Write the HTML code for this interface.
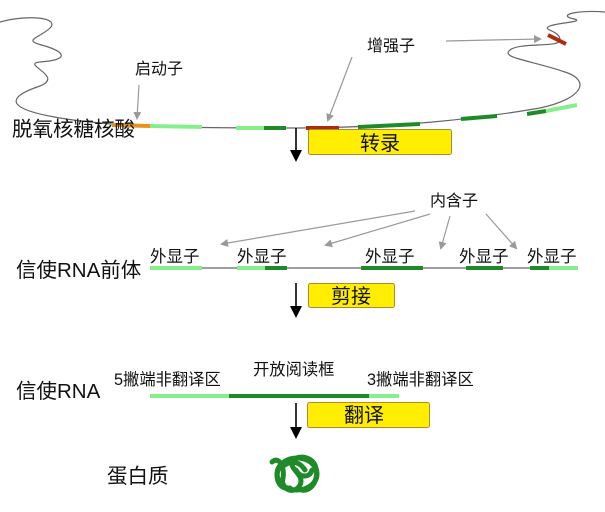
<!DOCTYPE html>
<html><head><meta charset="utf-8"><style>
body{margin:0;background:#fff;}
svg{display:block;}
text{font-family:"Liberation Sans","Noto Sans CJK SC",sans-serif;fill:#111;}
</style></head><body>
<svg width="605" height="512" viewBox="0 0 605 512" xmlns="http://www.w3.org/2000/svg">
<defs>
<marker id="ga" markerWidth="8" markerHeight="8" refX="6" refY="4" orient="auto" markerUnits="userSpaceOnUse"><path d="M0,0 L8,4 L0,8 z" fill="#999"/></marker>
<marker id="ba" markerWidth="12" markerHeight="12" refX="10" refY="6" orient="auto" markerUnits="userSpaceOnUse"><path d="M0,0 L12,6 L0,12 z" fill="#000"/></marker>
</defs>
<path d="M0,22 C30,14 60,18 50,28 C40,38 20,40 45,46 C65,52 70,60 40,62 C20,64 65,76 40,86 C10,96 0,108 60,118 C120,128 200,128 300,128 C400,127 470,120 540,108 C585,98 590,80 565,72 C530,60 500,58 510,50 C520,42 560,48 560,40 C560,30 540,30 550,26 C560,22 590,22 570,18 C560,14 580,10 605,12" fill="none" stroke="#666" stroke-width="1.2"/>
<g stroke-width="4" fill="none">
<line x1="112" y1="125" x2="150" y2="126" stroke="#e8941c"/>
<line x1="150" y1="126" x2="202" y2="127" stroke="#86ef8c"/>
<line x1="236" y1="128" x2="264" y2="128" stroke="#86ef8c"/>
<line x1="264" y1="128" x2="286" y2="128" stroke="#1e8a28"/>
<line x1="306" y1="128" x2="339" y2="128" stroke="#b02a10"/>
<line x1="358" y1="127" x2="420" y2="124" stroke="#1e8a28"/>
<line x1="461" y1="119" x2="497" y2="116" stroke="#1e8a28"/>
<line x1="527" y1="114" x2="546" y2="111" stroke="#1e8a28"/>
<line x1="546" y1="111" x2="577" y2="105" stroke="#86ef8c"/>
<line x1="548" y1="35" x2="566" y2="44" stroke="#b02a10"/>
</g>
<g stroke="#999" stroke-width="1.2" fill="none" marker-end="url(#ga)">
<line x1="139" y1="85" x2="137" y2="118"/>
<line x1="352" y1="57" x2="328" y2="120"/>
<line x1="446" y1="41" x2="540" y2="39"/>
<line x1="415" y1="211" x2="222" y2="244"/>
<line x1="430" y1="214" x2="326" y2="245"/>
<line x1="450" y1="216" x2="441" y2="248"/>
<line x1="486" y1="214" x2="516" y2="248"/>
</g>
<text x="135" y="74" font-size="16">启动子</text>
<text x="367" y="51" font-size="16">增强子</text>
<text x="12" y="136" font-size="20.5">脱氧核糖核酸</text>
<g stroke="#000" stroke-width="1.6" marker-end="url(#ba)">
<line x1="296" y1="128" x2="296" y2="160"/>
<line x1="296" y1="283" x2="296" y2="316"/>
<line x1="296" y1="403" x2="296" y2="437"/>
</g>
<rect x="308.5" y="129.5" width="143" height="25" rx="2" fill="#ffee00" stroke="#b08a30"/>
<text x="380" y="150" font-size="20" text-anchor="middle">转录</text>
<rect x="308.5" y="283.5" width="86" height="24" rx="2" fill="#ffee00" stroke="#b08a30"/>
<text x="351" y="303" font-size="20" text-anchor="middle">剪接</text>
<rect x="307.5" y="402.5" width="122" height="25" rx="2" fill="#ffee00" stroke="#b08a30"/>
<text x="364" y="422" font-size="20" text-anchor="middle">翻译</text>
<text x="430" y="206" font-size="16">内含子</text>
<g font-size="16.5"><text x="150" y="262">外显子</text><text x="237" y="262">外显子</text><text x="365" y="262">外显子</text><text x="459" y="262">外显子</text><text x="527" y="262">外显子</text></g>
<text x="16" y="277" font-size="20.5">信使RNA前体</text>
<line x1="150" y1="268" x2="578" y2="268" stroke="#666" stroke-width="1.2"/>
<g stroke-width="4">
<line x1="150" y1="268" x2="202" y2="268" stroke="#86ef8c"/>
<line x1="237" y1="268" x2="265" y2="268" stroke="#86ef8c"/>
<line x1="265" y1="268" x2="287" y2="268" stroke="#1e8a28"/>
<line x1="361" y1="268" x2="423" y2="268" stroke="#1e8a28"/>
<line x1="466" y1="268" x2="503" y2="268" stroke="#1e8a28"/>
<line x1="530" y1="268" x2="549" y2="268" stroke="#1e8a28"/>
<line x1="549" y1="268" x2="578" y2="268" stroke="#86ef8c"/>
</g>
<text x="114" y="385" font-size="16.3">5撇端非翻译区</text>
<text x="253" y="375" font-size="16.3">开放阅读框</text>
<text x="367" y="385" font-size="16.3">3撇端非翻译区</text>
<text x="16" y="398" font-size="20.5">信使RNA</text>
<g stroke-width="4">
<line x1="150" y1="396" x2="229" y2="396" stroke="#86ef8c"/>
<line x1="229" y1="396" x2="369" y2="396" stroke="#1e8a28"/>
<line x1="369" y1="396" x2="399" y2="396" stroke="#86ef8c"/>
</g>
<text x="107" y="483" font-size="20.5">蛋白质</text>
<g fill="none" stroke="#1e8a28" stroke-width="5" stroke-linecap="round">
<path d="M272,462 C280,455 285,470 283,478 C280,490 295,495 300,485 C305,475 290,470 292,462 C295,455 310,455 315,465 C320,478 312,492 302,490"/>
<path d="M278,470 C275,480 280,490 290,488 M296,470 C300,478 310,478 312,470 M285,465 C292,460 300,462 305,470"/>
<ellipse cx="297" cy="474" rx="20" ry="16"/>
</g>
</svg>
</body></html>
